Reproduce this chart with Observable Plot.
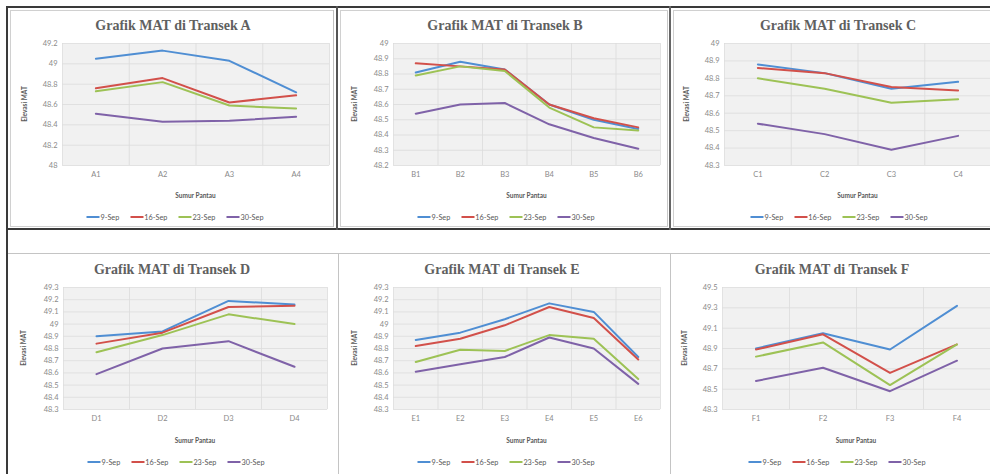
<!DOCTYPE html>
<html><head><meta charset="utf-8">
<script src="https://cdn.jsdelivr.net/npm/d3@7"></script>
<script src="https://cdn.jsdelivr.net/npm/@observablehq/plot@0.6"></script>
<style>
html,body{margin:0;padding:0;background:#fff}
body{width:990px;height:474px;overflow:hidden;position:relative;font-family:Lato,"Liberation Sans",sans-serif}
.abs{position:absolute}
.title{font-family:"Liberation Serif",serif;font-weight:bold;font-size:14px;line-height:14px;color:#606060;white-space:nowrap;transform:translateX(-50%)}
.xlab{font-size:6.5px;line-height:8px;font-weight:bold;color:#595959;white-space:nowrap;transform:translateX(-50%)}
.ylab{font-size:6.5px;line-height:8px;font-weight:bold;color:#595959;white-space:nowrap;width:60px;text-align:center;transform:rotate(-90deg)}
.legend{display:flex;gap:11px;align-items:center;transform:translateX(-50%);font-size:7.3px;line-height:10px;color:#595959;white-space:nowrap}
.legend span.sw{display:inline-block;width:13px;height:2px;vertical-align:middle;margin-right:1px;position:relative;top:-1px}
.line{position:absolute}
</style>
</head><body>
<script>
// ---------- data ----------
const series = ["9-Sep", "16-Sep", "23-Sep", "30-Sep"];
const colors = ["#4F8ED3", "#D2504A", "#9DC255", "#7F62A8"];
const xTitle = "Sumur Pantau";
const yTitle = "Elevasi MAT";

const catsA = ["A1", "A2", "A3", "A4"];
const a9  = [49.05, 49.13, 49.03, 48.72];
const a16 = [48.76, 48.86, 48.62, 48.69];
const a23 = [48.73, 48.82, 48.59, 48.56];
const a30 = [48.51, 48.43, 48.44, 48.48];
const ticksA = [48, 48.2, 48.4, 48.6, 48.8, 49, 49.2];

const catsB = ["B1", "B2", "B3", "B4", "B5", "B6"];
const b9  = [48.81, 48.88, 48.83, 48.60, 48.50, 48.44];
const b16 = [48.87, 48.85, 48.83, 48.60, 48.51, 48.45];
const b23 = [48.79, 48.85, 48.82, 48.58, 48.45, 48.43];
const b30 = [48.54, 48.60, 48.61, 48.47, 48.38, 48.31];
const ticksB = [48.2, 48.3, 48.4, 48.5, 48.6, 48.7, 48.8, 48.9, 49];

const catsC = ["C1", "C2", "C3", "C4"];
const c9  = [48.88, 48.83, 48.74, 48.78];
const c16 = [48.86, 48.83, 48.75, 48.73];
const c23 = [48.80, 48.74, 48.66, 48.68];
const c30 = [48.54, 48.48, 48.39, 48.47];
const ticksC = [48.3, 48.4, 48.5, 48.6, 48.7, 48.8, 48.9, 49];

const catsD = ["D1", "D2", "D3", "D4"];
const d9  = [48.90, 48.94, 49.19, 49.16];
const d16 = [48.84, 48.93, 49.14, 49.15];
const d23 = [48.77, 48.91, 49.08, 49.00];
const d30 = [48.59, 48.80, 48.86, 48.65];
const ticksD = [48.3, 48.4, 48.5, 48.6, 48.7, 48.8, 48.9, 49, 49.1, 49.2, 49.3];

const catsE = ["E1", "E2", "E3", "E4", "E5", "E6"];
const e9  = [48.87, 48.93, 49.04, 49.17, 49.10, 48.73];
const e16 = [48.82, 48.88, 48.99, 49.14, 49.05, 48.71];
const e23 = [48.69, 48.79, 48.78, 48.91, 48.88, 48.55];
const e30 = [48.61, 48.67, 48.73, 48.89, 48.80, 48.51];
const ticksE = [48.3, 48.4, 48.5, 48.6, 48.7, 48.8, 48.9, 49, 49.1, 49.2, 49.3];

const catsF = ["F1", "F2", "F3", "F4"];
const f9  = [48.90, 49.05, 48.89, 49.32];
const f16 = [48.89, 49.04, 48.66, 48.94];
const f23 = [48.82, 48.96, 48.54, 48.94];
const f30 = [48.58, 48.71, 48.48, 48.78];
const ticksF = [48.3, 48.5, 48.7, 48.9, 49.1, 49.3, 49.5];

const titles = ["Grafik MAT di Transek A", "Grafik MAT di Transek B", "Grafik MAT di Transek C",
                "Grafik MAT di Transek D", "Grafik MAT di Transek E", "Grafik MAT di Transek F"];

// ---------- layout ----------
const panels = [
  {title: titles[0], cats: catsA, vals: [a9, a16, a23, a30], ticks: ticksA, row: 0, plotL: 62, plotR: 329, tx: 173, lx: 175, yx: 25},
  {title: titles[1], cats: catsB, vals: [b9, b16, b23, b30], ticks: ticksB, row: 0, plotL: 393, plotR: 660, tx: 505, lx: 506, yx: 355},
  {title: titles[2], cats: catsC, vals: [c9, c16, c23, c30], ticks: ticksC, row: 0, plotL: 724, plotR: 991, tx: 838, lx: 839, yx: 687},
  {title: titles[3], cats: catsD, vals: [d9, d16, d23, d30], ticks: ticksD, row: 1, plotL: 63, plotR: 327, tx: 172, lx: 176, yx: 24},
  {title: titles[4], cats: catsE, vals: [e9, e16, e23, e30], ticks: ticksE, row: 1, plotL: 393, plotR: 660, tx: 502, lx: 506, yx: 355},
  {title: titles[5], cats: catsF, vals: [f9, f16, f23, f30], ticks: ticksF, row: 1, plotL: 722, plotR: 990, tx: 832, lx: 837, yx: 685}
];
const rows = [
  {plotT: 43, plotB: 165, titleTop: 18.5, xlabC: 196, legC: 218},
  {plotT: 287, plotB: 409, titleTop: 262.5, xlabC: 441, legC: 463}
];

function addDiv(cls, text, style) {
  const d = document.createElement("div");
  d.className = "abs " + cls;
  if (text != null) d.textContent = text;
  Object.assign(d.style, style);
  document.body.appendChild(d);
  return d;
}
function line(l, t, w, h, c) {
  addDiv("line", null, {left: l + "px", top: t + "px", width: w + "px", height: h + "px", background: c});
}

// frame lines of the document table
line(10, 10, 324, 1, "#d0d0d0"); line(10, 226, 324, 1, "#d0d0d0");
line(10, 10, 1, 217, "#d0d0d0"); line(333, 10, 1, 217, "#c0c0c0");
line(340, 10, 1, 217, "#d0d0d0"); line(667, 10, 1, 217, "#c8c8c8");
line(340, 226, 328, 1, "#d0d0d0"); line(340, 10, 328, 1, "#d0d0d0");
line(673, 10, 1, 217, "#d0d0d0"); line(673, 10, 317, 1, "#d0d0d0"); line(673, 226, 317, 1, "#d0d0d0");
line(6, 6, 984, 2, "#3a3a3a");
line(6, 6, 2, 468, "#3a3a3a");
line(6, 228, 984, 2, "#3a3a3a");
line(336, 6, 2, 224, "#555");
line(669, 6, 2, 224, "#666");
line(8, 253, 982, 1, "#c4c4c4");
line(338, 253, 1, 221, "#c4c4c4");
line(670, 253, 1, 221, "#c4c4c4");

const ML = 40, MR = 2, MT = 6, MB = 16;

panels.forEach(p => {
  const r = rows[p.row];
  const n = p.cats.length;
  const data = [];
  p.vals.forEach((arr, si) => arr.forEach((v, i) => data.push({series: series[si], i, v})));
  const W = p.plotR - p.plotL, H = r.plotB - r.plotT;
  const t0 = p.ticks[0], t1 = p.ticks[p.ticks.length - 1];
  const chart = Plot.plot({
    width: W + ML + MR, height: H + MT + MB,
    marginLeft: ML, marginRight: MR, marginTop: MT, marginBottom: MB,
    style: {fontSize: "7.5px", fontFamily: "Lato, 'Liberation Sans', sans-serif", color: "#8a8a8a", background: "transparent", overflow: "visible"},
    x: {type: "linear", domain: [-0.5, n - 0.5]},
    y: {domain: [t0, t1]},
    color: {domain: series, range: colors},
    marks: [
      Plot.frame({fill: "#f1f1f1", stroke: null}),
      Plot.gridY(p.ticks, {stroke: "#dcdcdc", strokeOpacity: 1, strokeWidth: 0.8}),
      Plot.gridX(d3.range(n + 1).map(k => k - 0.5), {stroke: "#dcdcdc", strokeOpacity: 1, strokeWidth: 0.8}),
      Plot.axisY(p.ticks, {tickSize: 0, tickPadding: 5, tickFormat: d => String(+d.toFixed(1)), label: null}),
      Plot.axisX(d3.range(n), {tickSize: 0, tickPadding: 6, tickFormat: i => p.cats[i], label: null}),
      Plot.line(data, {x: "i", y: "v", stroke: "series", z: "series", strokeWidth: 2, strokeLinejoin: "round"})
    ]
  });
  chart.style.position = "absolute";
  chart.style.left = (p.plotL - ML) + "px";
  chart.style.top = (r.plotT - MT) + "px";
  document.body.appendChild(chart);

  addDiv("title", p.title, {left: p.tx + "px", top: r.titleTop + "px"});
  addDiv("xlab", xTitle, {left: ((p.plotL + p.plotR) / 2) + "px", top: (r.xlabC - 4) + "px"});
  addDiv("ylab", yTitle, {left: (p.yx - 30) + "px", top: ((r.plotT + r.plotB) / 2 - 4) + "px"});
  const leg = addDiv("legend", null, {left: p.lx + "px", top: (r.legC - 5) + "px"});
  series.forEach((s, i) => {
    const it = document.createElement("span");
    it.innerHTML = `<span class="sw" style="background:${colors[i]}"></span>${s}`;
    leg.appendChild(it);
  });
});
</script>
</body></html>
